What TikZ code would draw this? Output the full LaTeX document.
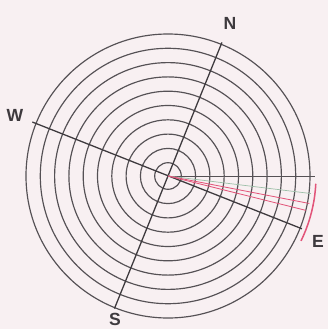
\documentclass[tikz,border=0pt]{standalone}
\usepackage{fontspec}
\setsansfont{Liberation Sans}
\usetikzlibrary{calc, positioning}
\definecolor{color_paper}{HTML}{F8F0F2}
\definecolor{color_ring}{HTML}{555155}
\definecolor{color_axis}{HTML}{3E3A3E}
\definecolor{color_mark}{HTML}{E2557A}
\definecolor{color_guide}{HTML}{9CBFA8}
\tikzset{
  ring_line/.style={draw=color_ring, line width=1pt},
  axis_line/.style={draw=color_axis, line width=1.1pt},
  ray_line/.style={draw=color_ring, line width=0.7pt},
  guide_line/.style={draw=color_guide, line width=0.6pt},
  mark_line/.style={draw=color_mark, line width=0.7pt},
  mark_arc/.style={draw=color_mark, line width=1.3pt},
  compass_label/.style={font=\sffamily\bfseries\fontsize{15}{15}\selectfont, text=color_axis, inner sep=0pt},
}

\begin{document}
\begin{tikzpicture}[x=0.03cm, y=0.03cm]
    \fill[color_paper] (-168,-153) rectangle (160,176);
    \useasboundingbox (-168,-153) rectangle (160,176);
    \coordinate (centre) at (0,0);
    % concentric rings
    \foreach \k in {0,...,9}
      \draw[ring_line] (centre) circle ({142-14.3*\k});
    % axis ends
    \coordinate (north_end) at (68:144);
    \coordinate (south_end) at (248:143);
    \coordinate (west_end) at (158.3:146);
    \coordinate (east_end) at (-21.5:144);
    \draw[axis_line] (south_end) -- (north_end);
    \draw[axis_line] (west_end) -- (east_end);
    % rays towards the east
    \coordinate (ray_flat) at (0:147);
    \coordinate (ray_guide) at (-7:144);
    \coordinate (ray_mark_a) at (-11:144);
    \coordinate (ray_mark_b) at (-14:142);
    \draw[ray_line] (centre) -- (ray_flat);
    \draw[guide_line] (centre) -- (ray_guide);
    \draw[mark_line] (centre) -- (ray_mark_a);
    \draw[mark_line] (centre) -- (ray_mark_b);
    \coordinate (arc_top) at (-3:148);
    \draw[mark_arc] (arc_top) arc[start angle=-3, end angle=-26, radius=148];
    % compass letters
    \node[compass_label] (label_n) at (62,153) {N};
    \node[compass_label] (label_w) at (-153,61) {W};
    \node[compass_label] (label_s) at (-53,-143) {S};
    \node[compass_label] (label_e) at (150,-65) {E};
  \end{tikzpicture}
\end{document}
